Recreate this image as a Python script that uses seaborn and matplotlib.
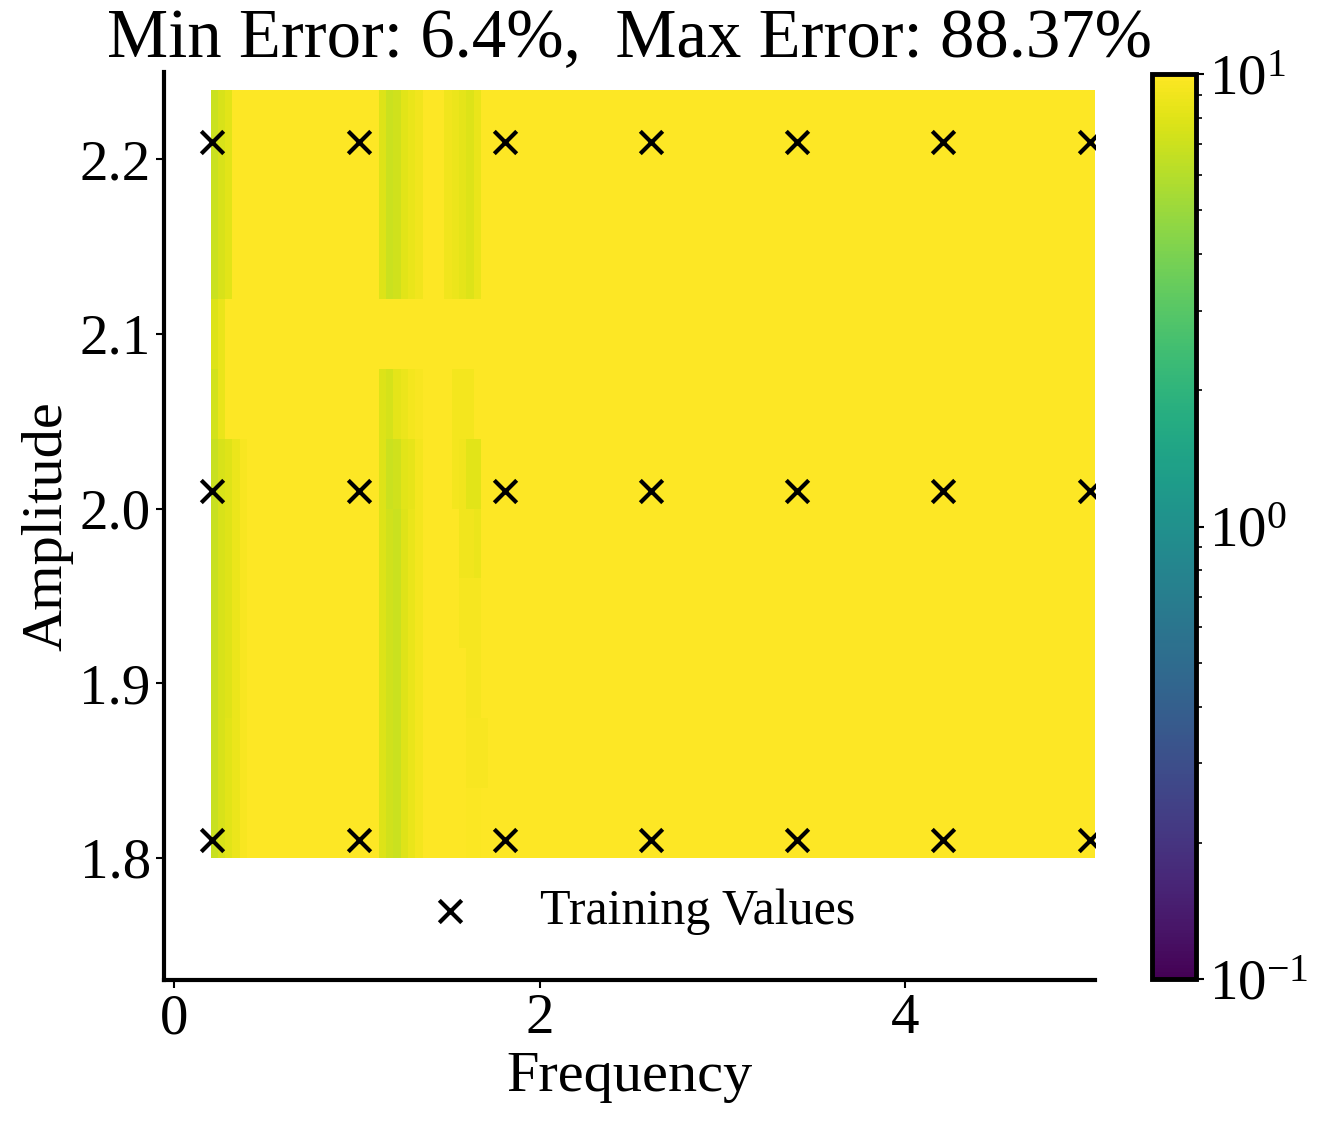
import numpy as np
import pandas as pd
import seaborn as sns
import matplotlib.pyplot as plt
from matplotlib.colors import LogNorm

sns.set_style("ticks", {'axes.edgecolor': 'black', 'text.color': 'black',
                        'axes.labelcolor': 'black', 'xtick.color': 'black',
                        'ytick.color': 'black'})
plt.rcParams['font.family'] = ['Liberation Serif', 'DejaVu Serif']
plt.rcParams['mathtext.fontset'] = 'stix'

# Grid of the error map (cell edges)
freq_edges = np.linspace(0.2, 5.04, 122)
amp_edges = np.linspace(1.8, 2.24, 12)

# Error values, most cells are above the top of the colour scale
base_error = 15.0

# left stripe, columns 0-4, rows from 1.80 (bottom) to 2.24 (top)
left_cols = [0, 1, 2, 3, 4]
left_vals = [
    [6.8, 7.5, 8.1, 8.8, 9.5],
    [6.8, 7.5, 8.1, 8.8, 9.5],
    [6.8, 7.5, 8.0, 8.8, 9.5],
    [6.8, 7.5, 8.0, 8.8, 9.5],
    [6.8, 7.5, 8.0, 8.8, 9.5],
    [6.8, 7.5, 8.0, 8.8, 9.5],
    [7.3, 8.6, 15, 15, 15],
    [7.9, 8.6, 15, 15, 15],
    [6.9, 7.6, 8.2, 15, 15],
    [6.9, 7.6, 8.2, 15, 15],
    [6.9, 7.6, 8.2, 15, 15],
]

# middle stripe, columns 23-28
mid_cols = [23, 24, 25, 26, 27, 28]
mid_vals = [
    [7.8, 7.2, 6.9, 8.0, 8.6, 9.3],
    [7.8, 7.2, 6.9, 8.0, 8.6, 9.3],
    [7.8, 7.2, 6.9, 8.0, 8.6, 9.3],
    [7.8, 7.2, 6.9, 8.0, 8.6, 9.3],
    [7.8, 7.2, 6.9, 8.0, 8.6, 9.3],
    [7.9, 6.9, 7.2, 8.2, 8.5, 9.2],
    [7.9, 7.4, 8.3, 8.7, 9.2, 9.5],
    [15, 15, 15, 15, 15, 15],
    [7.9, 6.9, 7.2, 8.2, 8.6, 9.1],
    [7.9, 6.9, 7.2, 8.2, 8.6, 9.1],
    [7.9, 6.9, 7.2, 8.2, 8.6, 9.1],
]

# right stripe, columns 32-37
right_cols = [32, 33, 34, 35, 36, 37]
right_vals = [
    [15, 15, 15, 9.7, 9.7, 15],
    [15, 15, 15, 9.6, 9.6, 9.6],
    [15, 15, 15, 9.4, 9.4, 15],
    [15, 15, 9.4, 9.4, 9.4, 15],
    [15, 15, 9.0, 9.0, 8.8, 15],
    [15, 9.3, 9.1, 8.2, 8.2, 15],
    [15, 9.2, 9.2, 9.2, 15, 15],
    [15, 15, 15, 15, 15, 15],
    [9.1, 8.8, 8.3, 7.9, 8.6, 15],
    [9.1, 8.8, 8.3, 7.9, 8.6, 15],
    [9.1, 8.8, 8.3, 7.9, 8.6, 15],
]

# Training points
train_freq = [0.21, 1.01, 1.81, 2.61, 3.41, 4.21, 5.01]
train_amp = [1.81, 2.01, 2.21]

min_err = 6.4
max_err = 88.37

error = np.full((len(amp_edges) - 1, len(freq_edges) - 1), base_error)
for cols, vals in [(left_cols, left_vals), (mid_cols, mid_vals), (right_cols, right_vals)]:
    error[:, cols] = np.array(vals)

fig = plt.figure(figsize=(13.32, 11.24), dpi=100)
ax = fig.add_axes([0.1231, 0.1281, 0.6990, 0.8078])
cax = fig.add_axes([0.8649, 0.1290, 0.0330, 0.8050])

mesh = ax.pcolormesh(freq_edges, amp_edges, error, cmap='viridis',
                     norm=LogNorm(vmin=0.1, vmax=10), shading='flat')

train_df = pd.DataFrame([(f, a) for a in train_amp for f in train_freq],
                        columns=['Frequency', 'Amplitude'])
sns.scatterplot(data=train_df, x='Frequency', y='Amplitude', marker='x', color='black',
                s=260, linewidth=3.0, ax=ax, label='Training Values', zorder=3)

ax.set_xlim(-0.055, 5.04)
ax.set_ylim(1.73, 2.25)
ax.set_xticks([0, 2, 4])
ax.set_yticks([1.8, 1.9, 2.0, 2.1, 2.2])
ax.set_yticklabels(['1.8', '1.9', '2.0', '2.1', '2.2'])
ax.tick_params(labelsize=41, length=6, width=1.5)
ax.set_xlabel('Frequency', fontsize=42)
ax.set_ylabel('Amplitude', fontsize=42)
ax.set_title('Min Error: {}%,  Max Error: {}%'.format(min_err, max_err), fontsize=49.5,
             pad=0)
sns.despine(ax=ax)
for sp in ['left', 'bottom']:
    ax.spines[sp].set_linewidth(3)

ax.legend(loc='lower center', frameon=False, fontsize=36, handletextpad=0.8,
          bbox_to_anchor=(0.498, 0.0))

cb = fig.colorbar(mesh, cax=cax)
cb.outline.set_linewidth(3.5)
cb.outline.set_edgecolor('black')
cb.ax.tick_params(labelsize=41, which='major', length=6, width=1.5)
cb.ax.tick_params(which='minor', length=4, width=1.2)

fig.savefig('out.png', dpi=100)
